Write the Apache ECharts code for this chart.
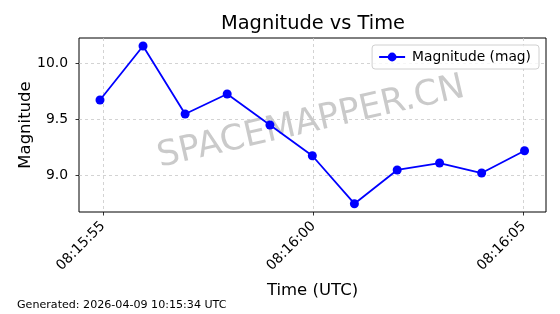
<!DOCTYPE html>
<html>
<head>
<meta charset="utf-8">
<script src="https://cdn.jsdelivr.net/npm/echarts@6/dist/echarts.min.js"></script>
<style>
html,body{margin:0;padding:0;background:#fff;}
#chart{width:560px;height:314px;}
</style>
</head>
<body>
<div id="chart"></div>
<script>
// ---- data ----
var times = ['08:15:54.929','08:15:55.952','08:15:56.952','08:15:57.952','08:15:58.969',
             '08:15:59.976','08:16:00.976','08:16:01.993','08:16:03.000','08:16:04.000','08:16:05.020'];
var magnitudes = [9.670, 10.152, 9.545, 9.723, 9.446, 9.172, 8.744, 9.045, 9.107, 9.018, 9.217];
var xTickLabels = ['08:15:55', '08:16:00', '08:16:05'];
var yTickLabels = ['9.0', '9.5', '10.0'];
var seriesName = 'Magnitude (mag)';
var titleText = 'Magnitude vs Time';
var xName = 'Time (UTC)';
var yName = 'Magnitude';
var footerText = 'Generated: 2026-04-09 10:15:34 UTC';
var watermarkText = 'SPACEMAPPER.CN';

function toSec(s) {
  var p = s.split(':');
  return (+p[0]) * 3600 + (+p[1]) * 60 + parseFloat(p[2]);
}
function fmt(v) {
  var t = Math.round(v);
  var h = Math.floor(t / 3600), m = Math.floor((t % 3600) / 60), s = t % 60;
  function pad(n) { return (n < 10 ? '0' : '') + n; }
  return pad(h) + ':' + pad(m) + ':' + pad(s);
}

var xTicks = xTickLabels.map(toSec);
var yTicks = yTickLabels.map(parseFloat);
var points = times.map(function (t, i) { return [toSec(t), magnitudes[i]]; });

var FONT = 'DejaVu Sans';
var chart = echarts.init(document.getElementById('chart'), null, {renderer: 'canvas'});
chart.setOption({
  animation: false,
  backgroundColor: '#fff',
  textStyle: {fontFamily: FONT},
  title: {
    text: titleText,
    left: 313, top: 14, textAlign: 'center', padding: 0,
    textStyle: {fontFamily: FONT, fontSize: 19.4, fontWeight: 'normal', color: '#000'}
  },
  grid: {
    left: 79, top: 38, right: 14, bottom: 102,
    show: true, borderColor: '#000', borderWidth: 1, backgroundColor: 'transparent'
  },
  legend: {
    data: [seriesName],
    right: 21, top: 45,
    padding: [5, 8, 5, 6],
    itemWidth: 26, itemHeight: 11,
    borderColor: '#d0d0d0', borderWidth: 1, borderRadius: 3,
    backgroundColor: 'rgba(255,255,255,0.8)',
    textStyle: {fontFamily: FONT, fontSize: 13.8, color: '#000', padding: [0, 0, 0, 2]}
  },
  xAxis: {
    type: 'value',
    min: 29754.43, max: 29765.53,
    name: xName, nameLocation: 'middle', nameGap: 70,
    nameTextStyle: {fontFamily: FONT, fontSize: 16.5, color: '#000'},
    axisLine: {show: false},
    axisTick: {show: true, customValues: xTicks, length: 3.5, lineStyle: {color: '#000', width: 0.8}},
    axisLabel: {
      customValues: xTicks, rotate: 45, margin: 12,
      fontFamily: FONT, fontSize: 13.9, color: '#000',
      formatter: function (v) { return fmt(v); }
    },
    splitLine: {show: true, lineStyle: {color: '#c8c8c8', type: [3, 3], width: 0.8}}
  },
  yAxis: {
    type: 'value',
    min: 8.67, max: 10.223,
    name: yName, nameLocation: 'middle', nameGap: 45, nameRotate: 90,
    nameMoveOverlap: false,
    nameTextStyle: {fontFamily: FONT, fontSize: 16.5, color: '#000'},
    axisLine: {show: false},
    axisTick: {show: true, customValues: yTicks, length: 3.5, lineStyle: {color: '#000', width: 0.8}},
    axisLabel: {
      customValues: yTicks, margin: 11,
      fontFamily: FONT, fontSize: 13.9, color: '#000',
      formatter: function (v) { return v.toFixed(1); }
    },
    splitLine: {show: true, lineStyle: {color: '#c8c8c8', type: [3, 3], width: 0.8}}
  },
  graphic: [
    {
      type: 'text', x: 311, y: 122.5, rotation: 13 * Math.PI / 180, z: 0, silent: true,
      style: {
        text: watermarkText, fontFamily: FONT, fontSize: 35,
        fill: 'rgba(128,128,128,0.42)', align: 'center', verticalAlign: 'middle'
      }
    },
    {
      type: 'text', x: 17, y: 305, silent: true,
      style: {
        text: footerText, fontFamily: FONT, fontSize: 11.1,
        fill: '#000', align: 'left', verticalAlign: 'middle'
      }
    }
  ],
  series: [{
    name: seriesName,
    type: 'line',
    data: points,
    symbol: 'circle', symbolSize: 9,
    lineStyle: {color: '#0000ff', width: 1.8},
    itemStyle: {color: '#0000ff'},
    z: 3
  }]
});
</script>
</body>
</html>
